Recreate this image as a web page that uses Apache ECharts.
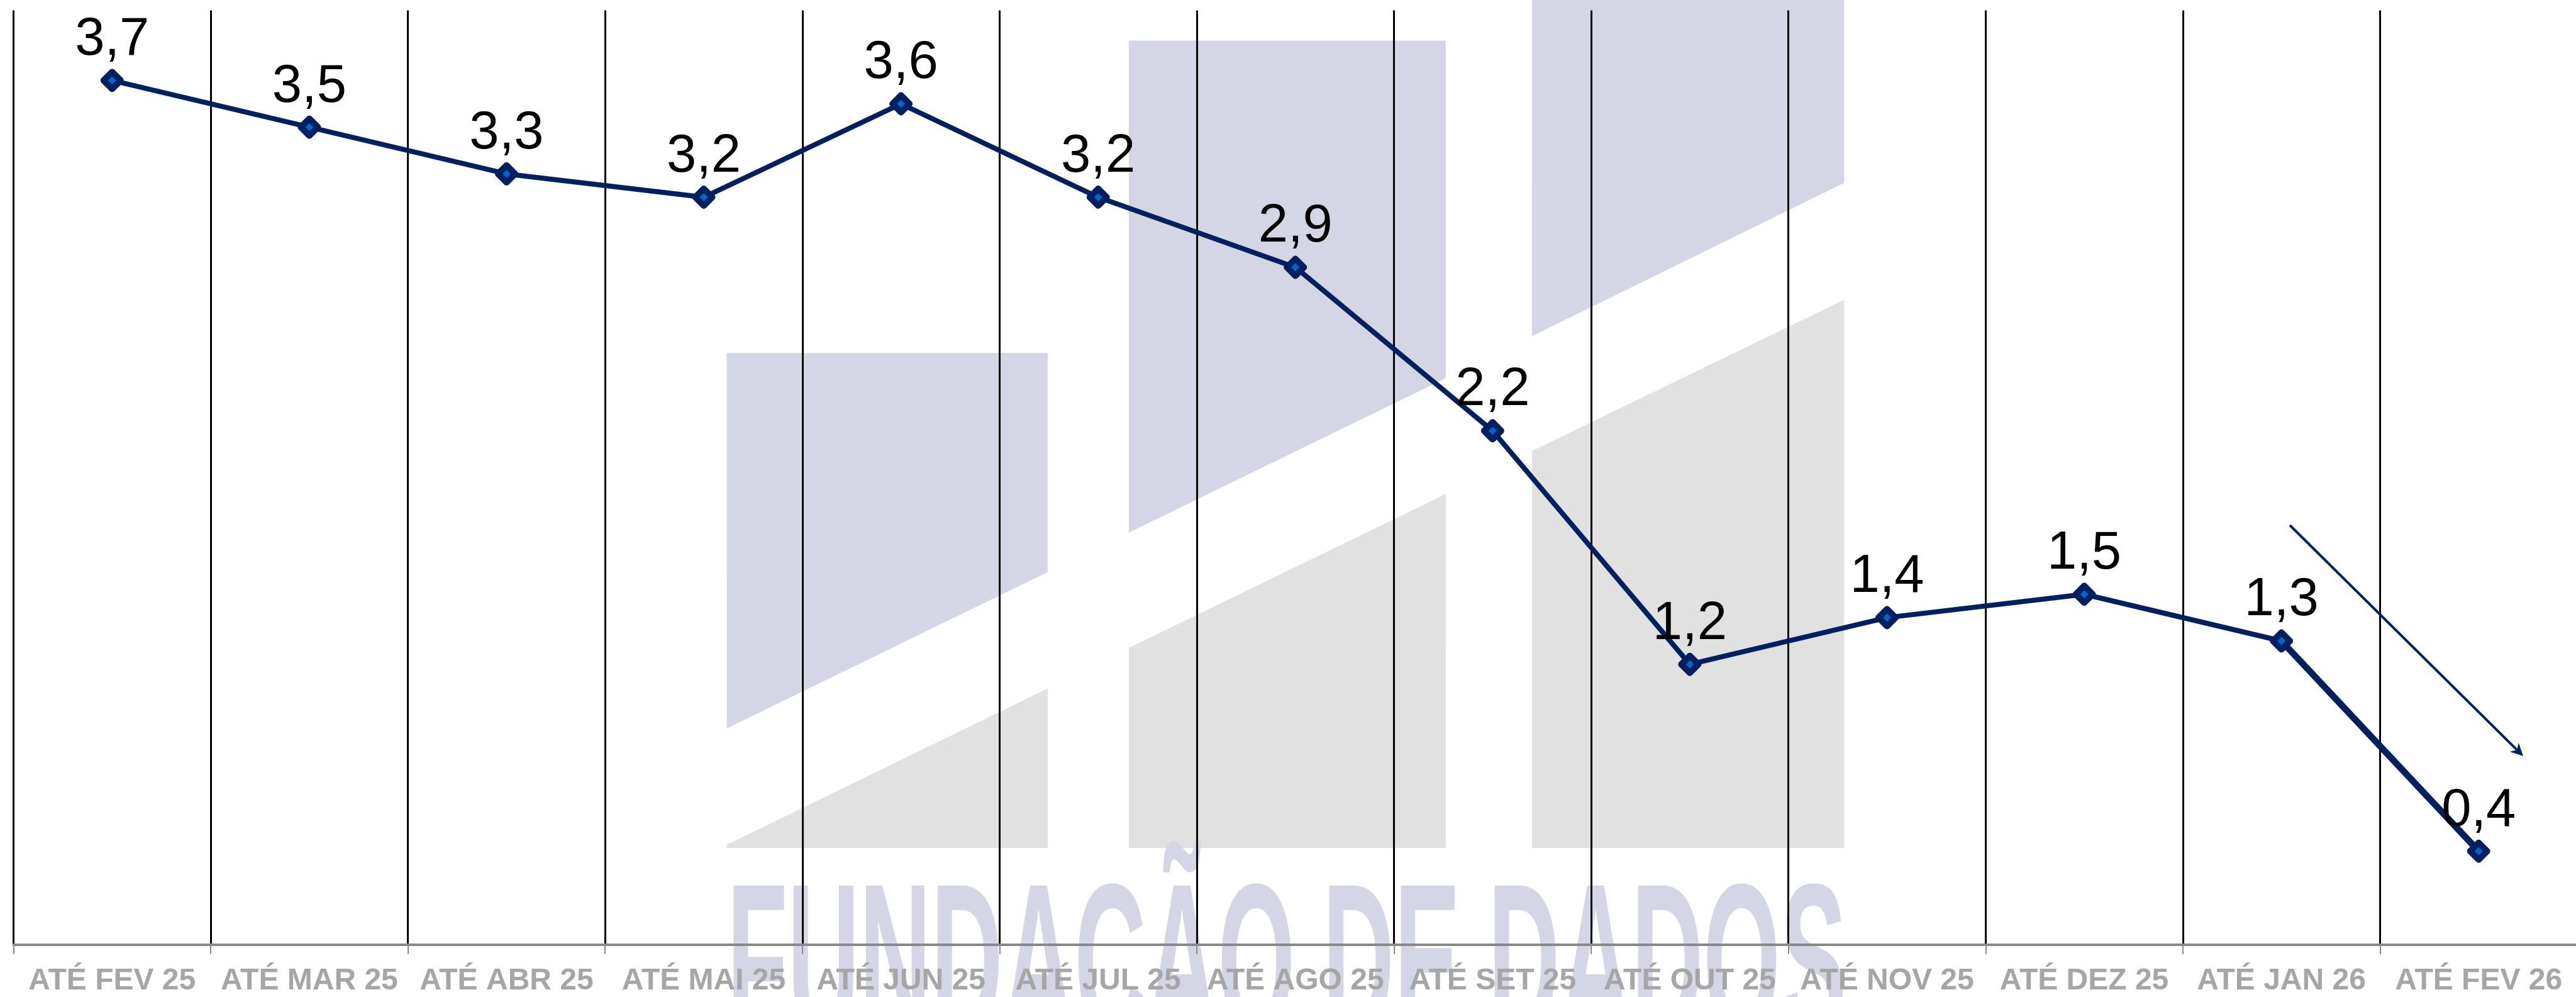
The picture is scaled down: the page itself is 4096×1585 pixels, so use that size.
<!DOCTYPE html>
<html>
<head>
<meta charset="utf-8">
<script src="https://cdn.jsdelivr.net/npm/echarts@6/dist/echarts.min.js"></script>
<style>
html,body{margin:0;padding:0;background:#fff;}
#chart{width:4096px;height:1585px;}
</style>
</head>
<body>
<div id="chart"></div>
<script>
// ---- data ----
const categories = ['ATÉ FEV 25','ATÉ MAR 25','ATÉ ABR 25','ATÉ MAI 25','ATÉ JUN 25','ATÉ JUL 25','ATÉ AGO 25','ATÉ SET 25','ATÉ OUT 25','ATÉ NOV 25','ATÉ DEZ 25','ATÉ JAN 26','ATÉ FEV 26'];
const values = [3.7, 3.5, 3.3, 3.2, 3.6, 3.2, 2.9, 2.2, 1.2, 1.4, 1.5, 1.3, 0.4];
const yMin = 0, yMax = 4;
const watermarkText = 'FUNDAÇÃO DE DADOS';

const navy = '#002060';
const lav = '#d4d6e6';
const gry = '#e1e1e1';
const FONT = '"Liberation Sans", Arial, sans-serif';

const lastSeg = values.map((v, i) => (i >= values.length - 2 ? v : null));

// arrow geometry (annotation)
const a0 = [3641, 835], a1 = [4012, 1202];
const adx = a1[0] - a0[0], ady = a1[1] - a0[1], alen = Math.hypot(adx, ady);
const ux = adx / alen, uy = ady / alen, nx = -uy, ny = ux;
const hl = 20, hw = 10;
const hb = [a1[0] - ux * hl, a1[1] - uy * hl];

const chart = echarts.init(document.getElementById('chart'), null, {renderer: 'canvas'});
chart.setOption({
  backgroundColor: '#ffffff',
  animation: false,
  grid: {left: 21.5, right: -2, top: 16.5, bottom: 83.3, containLabel: false, outerBoundsMode: 'none'},
  xAxis: {
    type: 'category',
    data: categories,
    boundaryGap: true,
    axisLine: {show: true, lineStyle: {color: '#8a8a8a', width: 4}},
    axisTick: {show: true, alignWithLabel: false, length: 15, lineStyle: {color: '#8a8a8a', width: 2}},
    axisLabel: {show: true, interval: 0, margin: 34, color: '#a6a6a6', fontWeight: 'bold', fontSize: 48, fontFamily: FONT},
    splitLine: {show: true, interval: 0, lineStyle: {color: '#000000', width: 3}}
  },
  yAxis: {
    type: 'value', min: yMin, max: yMax,
    show: true,
    axisLine: {show: false}, axisTick: {show: false}, axisLabel: {show: false},
    splitLine: {show: false}
  },
  graphic: {
    elements: [
      {type: 'polygon', z: -100, silent: true, shape: {points: [[1155.6,560.9],[1665.9,560.9],[1665.9,909.4],[1155.6,1158.1]]}, style: {fill: lav}},
      {type: 'polygon', z: -100, silent: true, shape: {points: [[1155.6,1348],[1155.6,1343],[1665.9,1094.5],[1665.9,1348]]}, style: {fill: gry}},
      {type: 'polygon', z: -100, silent: true, shape: {points: [[1794.9,64.4],[2298.8,64.4],[2298.8,601.3],[1794.9,846.7]]}, style: {fill: lav}},
      {type: 'polygon', z: -100, silent: true, shape: {points: [[1794.9,1030],[2298.8,785.5],[2298.8,1348],[1794.9,1348]]}, style: {fill: gry}},
      {type: 'polygon', z: -100, silent: true, shape: {points: [[2435.9,-5],[2932.3,-5],[2932.3,290.8],[2435.9,534.4]]}, style: {fill: lav}},
      {type: 'polygon', z: -100, silent: true, shape: {points: [[2435.9,717],[2932.3,476.6],[2932.3,1348],[2435.9,1348]]}, style: {fill: gry}},
      {type: 'text', z: -100, silent: true, x: 1156, y: 1552, scaleX: 0.451, scaleY: 1,
        style: {text: watermarkText, font: 'bold 350px ' + FONT, fill: lav, align: 'left', verticalAlign: 'middle'}},
      {type: 'line', z: 50, silent: true, shape: {x1: a0[0], y1: a0[1], x2: a1[0] - ux * 14, y2: a1[1] - uy * 14}, style: {stroke: navy, lineWidth: 4}},
      {type: 'polygon', z: 50, silent: true, shape: {points: [a1, [hb[0] + nx * hw, hb[1] + ny * hw], [a1[0] - ux * 14, a1[1] - uy * 14], [hb[0] - nx * hw, hb[1] - ny * hw]]}, style: {fill: navy}}
    ]
  },
  series: [
    {
      type: 'line',
      data: values,
      z: 5,
      symbol: 'diamond',
      symbolSize: 27,
      lineStyle: {color: navy, width: 8},
      itemStyle: {color: '#0066cc', borderColor: navy, borderWidth: 10, borderJoin: 'round'},
      label: {
        show: true, position: 'top', distance: 3,
        color: '#000000', fontSize: 85, fontFamily: FONT,
        formatter: p => p.value.toFixed(1).replace('.', ',')
      }
    },
    {
      type: 'line',
      data: lastSeg,
      z: 4,
      symbol: 'none',
      lineStyle: {color: navy, width: 10.5},
      silent: true
    }
  ]
});
</script>
</body>
</html>
